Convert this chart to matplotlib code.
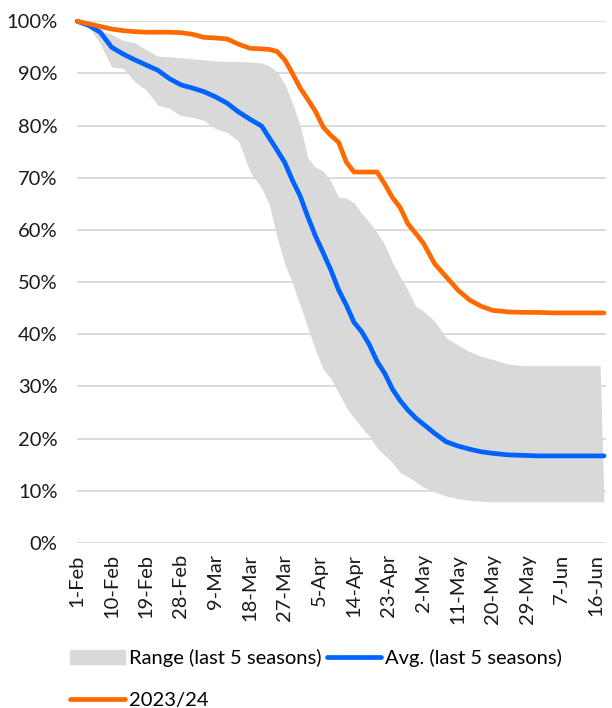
import matplotlib
matplotlib.use("Agg")
import matplotlib.pyplot as plt
from matplotlib.patches import Patch
from matplotlib.lines import Line2D
from matplotlib.ticker import PercentFormatter

plt.rcParams['font.family'] = ['Lato', 'DejaVu Sans']

# day offset from 1-Feb
days = [0, 3, 6, 9, 12, 15, 18, 21, 24, 27, 30, 33, 36, 39, 42, 45, 48, 50, 52, 54,
        56, 58, 60, 62, 64, 66, 68, 70, 72, 74, 76, 78, 80, 82, 84, 86, 88, 90, 93, 96,
        99, 102, 105, 108, 112, 116, 120, 124, 128, 132, 136, 137]

season_2324 = [100, 99.5, 99.0, 98.5, 98.2, 98.0, 97.9, 97.9, 97.9, 97.8, 97.5, 96.9, 96.8, 96.6,
               95.6, 94.8, 94.7, 94.6, 94.2, 92.6, 90.0, 87.2, 85.0, 82.7, 79.7, 78.1, 76.8,
               73.0, 71.1, 71.1, 71.1, 71.1, 68.8, 66.2, 64.3, 61.2, 59.4, 57.5, 53.5, 51.0,
               48.5, 46.6, 45.4, 44.6, 44.3, 44.2, 44.2, 44.1, 44.1, 44.1, 44.1, 44.1]

avg_5y = [100, 99.2, 97.9, 95.0, 93.7, 92.6, 91.6, 90.6, 89.0, 87.8, 87.2, 86.5, 85.5, 84.3,
          82.6, 81.2, 79.9, 77.6, 75.3, 72.9, 69.5, 66.5, 62.5, 58.8, 55.6, 52.3, 48.5,
          45.6, 42.3, 40.5, 38.0, 34.8, 32.5, 29.5, 27.3, 25.5, 24.0, 22.8, 21.0, 19.4,
          18.6, 18.0, 17.5, 17.2, 16.9, 16.8, 16.7, 16.7, 16.7, 16.7, 16.7, 16.7]

range_hi = [100, 99.2, 98.2, 97.5, 96.3, 95.9, 94.5, 93.3, 93.2, 93.0, 92.8, 92.6, 92.4, 92.3,
            92.3, 92.2, 92.0, 91.4, 90.3, 88.0, 84.3, 80.0, 73.8, 72.0, 71.3, 69.3, 66.3,
            66.1, 65.2, 63.2, 61.5, 59.5, 57.2, 53.8, 51.0, 48.5, 45.4, 44.5, 42.5, 39.3,
            38.0, 36.7, 35.8, 35.2, 34.3, 34.0, 34.0, 34.0, 34.0, 34.0, 34.0, 7.9]

range_lo = [100, 99.0, 95.7, 91.2, 91.0, 88.4, 86.8, 83.9, 83.3, 81.9, 81.6, 81.0, 79.4, 78.7,
            77.0, 71.1, 68.0, 64.8, 58.6, 53.5, 49.7, 45.6, 41.3, 37.0, 33.3, 31.5, 28.8,
            26.0, 24.0, 22.2, 20.4, 18.3, 16.8, 15.4, 13.5, 12.7, 11.8, 10.7, 9.8, 9.0,
            8.5, 8.2, 8.0, 7.9, 7.9, 7.9, 7.9, 7.9, 7.9, 7.9, 7.9, 7.9]

tick_days = [0, 9, 18, 27, 36, 45, 54, 63, 72, 81, 90, 99, 108, 117, 126, 135]
tick_labels = ["1-Feb", "10-Feb", "19-Feb", "28-Feb", "9-Mar", "18-Mar", "27-Mar", "5-Apr",
               "14-Apr", "23-Apr", "2-May", "11-May", "20-May", "29-May", "7-Jun", "16-Jun"]

gray = "#D9D9D9"
blue = "#0062FF"
orange = "#FF6A00"

fig = plt.figure(figsize=(6.12, 7.08), dpi=100)
ax = fig.add_axes([0.126, 0.233, 0.864, 0.737])

ax.fill_between(days, range_lo, range_hi, color=gray, lw=0, zorder=2)
ax.plot(days, avg_5y, color=blue, lw=3.4, solid_capstyle="round", zorder=3, clip_on=False)
ax.plot(days, season_2324, color=orange, lw=3.4, solid_capstyle="round", zorder=4, clip_on=False)

ax.set_xlim(0, 137.5)
ax.set_ylim(0, 100)
ax.set_yticks(range(0, 101, 10))
ax.yaxis.set_major_formatter(PercentFormatter(decimals=0))
ax.set_xticks(tick_days)
ax.set_xticklabels(tick_labels, rotation=90)
ax.tick_params(axis="both", length=0, labelsize=14.5, colors="#1a1a1a")
ax.tick_params(axis="y", pad=14)
ax.tick_params(axis="x", pad=8)
ax.grid(axis="y", color=gray, lw=1.3, zorder=1)
ax.set_axisbelow(True)
for s in ax.spines.values():
    s.set_visible(False)

handles = [Patch(color=gray, label="Range (last 5 seasons)"),
           Line2D([], [], color=orange, lw=3.4, solid_capstyle="round", label="2023/24"),
           Line2D([], [], color=blue, lw=3.4, solid_capstyle="round", label="Avg. (last 5 seasons)")]
fig.legend(handles=handles, ncol=2, loc="lower left", bbox_to_anchor=(0.085, -0.027),
           frameon=False, fontsize=14.5, handlelength=2.7, handletextpad=0.2,
           columnspacing=0.3, labelspacing=1.25)

fig.savefig("out.png", dpi=100)
